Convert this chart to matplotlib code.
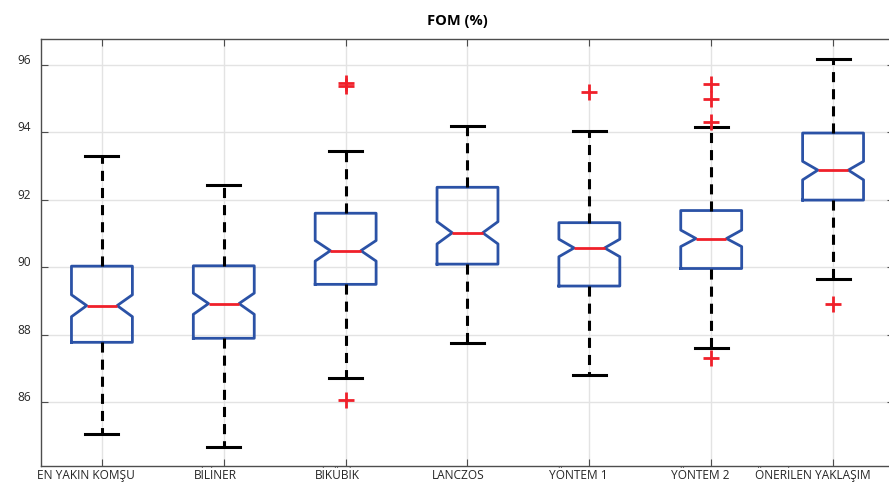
import matplotlib
matplotlib.use("Agg")
import matplotlib.pyplot as plt
from matplotlib.transforms import ScaledTranslation

plt.rcParams['font.family'] = ['Open Sans', 'DejaVu Sans']

labels = ["EN YAKIN KOMŞU", "BİLİNER", "BİKÜBİK", "LANCZOS",
          "YÖNTEM 1", "YÖNTEM 2", "ÖNERİLEN YAKLAŞIM"]
med    = [88.86, 88.92, 90.49, 91.02, 90.57, 90.85, 92.88]
q1     = [87.77, 87.89, 89.49, 90.09, 89.44, 89.96, 91.99]
q3     = [90.03, 90.04, 91.60, 92.37, 91.32, 91.68, 93.98]
ci_lo  = [88.53, 88.60, 90.18, 90.69, 90.31, 90.61, 92.59]
ci_hi  = [89.18, 89.23, 90.79, 91.35, 90.83, 91.10, 93.14]
wh_lo  = [85.04, 84.67, 86.70, 87.74, 86.80, 87.60, 89.64]
wh_hi  = [93.31, 92.44, 93.46, 94.19, 94.04, 94.16, 96.18]
fliers = [[], [], [95.38, 95.47, 86.06], [], [95.19],
          [95.43, 94.98, 94.32, 87.30], [88.92]]

stats = []
for i in range(len(labels)):
    stats.append(dict(label=labels[i], med=med[i], q1=q1[i], q3=q3[i],
                      cilo=ci_lo[i], cihi=ci_hi[i],
                      whislo=wh_lo[i], whishi=wh_hi[i], fliers=fliers[i]))

fig = plt.figure(figsize=(8.89, 4.83), dpi=100)
# axes runs a little past the right edge of the picture, as in the original
ax = fig.add_axes([41/889, 1 - 466/483, 853/889, 427/483])

blue = '#2b52a6'
red = '#f0202a'
ax.bxp(stats, positions=range(1, 8), widths=0.5, shownotches=True,
       capwidths=0.27,
       boxprops=dict(color=blue, linewidth=2.0),
       medianprops=dict(color=red, linewidth=2.0),
       whiskerprops=dict(color='black', linewidth=2.2, linestyle=(0, (3.3, 2.3))),
       capprops=dict(color='black', linewidth=2.2),
       flierprops=dict(marker='+', markeredgecolor=red, markersize=11,
                       markeredgewidth=2.0, linestyle='none'),
       zorder=3)

ax.set_xlim(0.5, 7.5)
ax.set_ylim(84.1, 96.77)
ax.set_yticks([86, 88, 90, 92, 94, 96])
ax.set_xticks(range(1, 8))
ax.set_xticklabels(labels)
ax.grid(True, color='#e3e3e3', linewidth=1.0, zorder=0)
ax.set_axisbelow(True)
ax.tick_params(direction='in', top=True, right=True, length=5,
               colors='#4d4d4d', labelsize=8.6, labelcolor='#262626')
ax.tick_params(axis='x', pad=9.4)
ax.tick_params(axis='y', pad=7.2)
for s in ax.spines.values():
    s.set_color('#4d4d4d')
    s.set_linewidth(1.0)

# the original's labels sit a bit left of their ticks, y labels a bit high
x_shift = [-16, -8, -8, -9, -11, -11, -20]
for lab, dx in zip(ax.get_xticklabels(), x_shift):
    lab.set_va('baseline')
    lab.set_transform(lab.get_transform() + ScaledTranslation(dx / 100, 0, fig.dpi_scale_trans))
for lab in ax.get_yticklabels():
    lab.set_transform(lab.get_transform() + ScaledTranslation(0, 6 / 100, fig.dpi_scale_trans))

ax.set_title("FOM (%)", fontsize=10.5, fontweight='bold', color='black',
             pad=10, x=0.488)

fig.savefig("out.png", dpi=100)
